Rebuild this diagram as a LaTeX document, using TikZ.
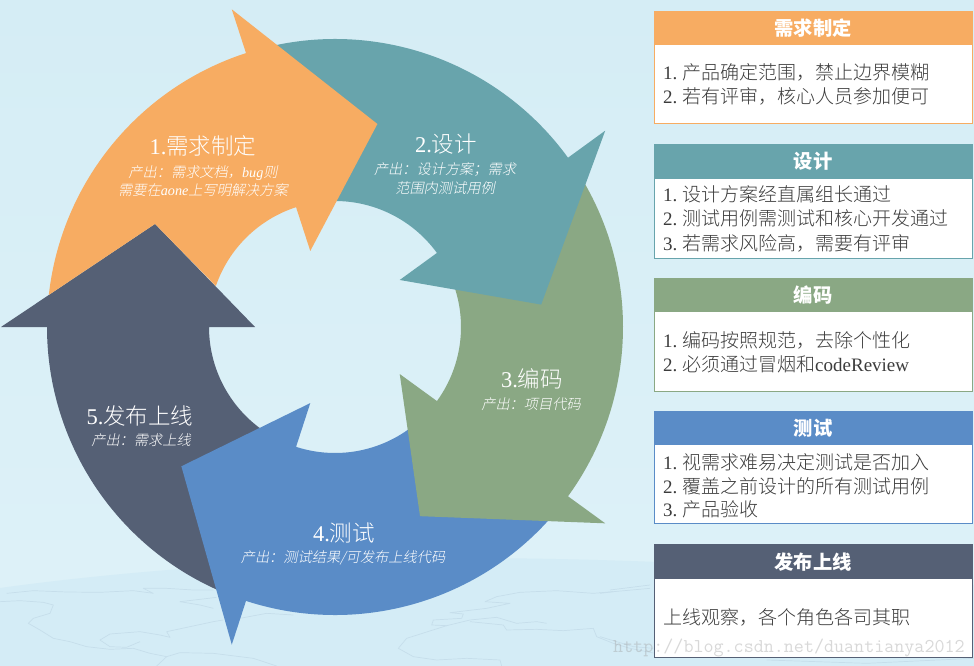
\documentclass[tikz,border=0pt]{standalone}
\usepackage{fontspec}
\setmainfont{Liberation Serif}
\newfontfamily\cjk{Noto Sans CJK SC}
\newfontfamily\cjkl{Noto Sans CJK SC Light}
\newfontfamily\cjki[FakeSlant=0.2]{Noto Sans CJK SC Light}
\definecolor{corange}{HTML}{F7AC62}
\definecolor{cteal}{HTML}{68A4AC}
\definecolor{colive}{HTML}{8AA884}
\definecolor{cblue}{HTML}{5A8CC7}
\definecolor{cdark}{HTML}{556075}
\definecolor{bgtop}{HTML}{D5EDF5}
\definecolor{bgbot}{HTML}{DDF1F8}
\definecolor{globe}{HTML}{D4ECF6}
\definecolor{mapline}{HTML}{C6DEEB}
\definecolor{bodytext}{HTML}{3C3C3C}
\tikzset{
  bigl/.style={text=white,inner sep=0pt,anchor=base,font=\fontsize{22.5}{22.5}\selectfont},
  subl/.style={text=white,inner sep=0pt,anchor=base,font=\fontsize{14.2}{14.2}\selectfont},
  bodyl/.style={text=bodytext,inner sep=0pt,anchor=base west,font=\fontsize{19}{19}\selectfont},
  headbox/.style={fill=#1,text=white,inner sep=0pt,anchor=north west,minimum width=318pt,font=\fontsize{19.3}{19.3}\selectfont\bfseries},
  panelbox/.style={draw=#1,fill=white,line width=1pt,inner sep=0pt,anchor=north west,minimum width=318pt},
  maptrace/.style={draw=mapline,line width=0.7pt,line join=round},
}
% #1 colour, #2 head angle, arrow sweeps clockwise into that angle
\newcommand{\swoop}[2]{%
  \pgfmathsetmacro{\tout}{#2+68}\pgfmathsetmacro{\tin}{#2+60.8}\pgfmathsetmacro{\ttip}{#2-29.8}%
  \fill[#1] (\tout:288pt) arc[start angle=\tout,end angle=#2,radius=288pt]
    -- (#2:334pt) -- (\ttip:207.4pt) -- (#2:80pt) -- (#2:126pt)
    arc[start angle=#2,end angle=\tin,radius=126pt] -- cycle;}
\newcommand{\panel}[6]{%
  \node[panelbox=#2,minimum height=#5pt] (p#1) at (654,#3) {};
  \node[headbox=#2,minimum height=#4pt] (h#1) at (654,#3) {\cjk #6};}
\newcommand{\num}[1]{\makebox[19pt][l]{#1}}
\begin{document}
\begin{tikzpicture}[x=1pt,y=-1pt]
\useasboundingbox (0,0) rectangle (974,666);
% background
\shade[top color=bgtop,bottom color=bgbot] (0,0) rectangle (974,575);
\fill[bgbot] (0,570) rectangle (974,666);
\fill[globe] (0,588) .. controls (130,570) and (300,558) .. (460,558)
  .. controls (600,558) and (800,565) .. (974,585) -- (974,666) -- (0,666) -- cycle;
% faint world map
\begin{scope}[shift={(0,560)},x=.3333pt,y=-.3333pt]
\draw[maptrace] (0,125)--(60,122)--(130,127)--(160,135)--(150,160)--(100,175)--(85,190)--(120,210)--(160,235)--(210,245)--(260,260)--(330,268)--(400,265)--(450,280)--(500,290)--(470,318);
\draw[maptrace] (20,100)--(100,92)--(200,96)--(300,97)--(400,92)--(460,100)--(430,85)--(500,85)--(580,90)--(640,90);
\draw[maptrace] (300,240)--(330,222)--(420,215)--(480,225)--(510,232)--(500,215)--(570,200)--(640,185)--(670,180);
\draw[maptrace] (300,240)--(330,260)--(380,262)--(420,245);
\draw[maptrace] (500,290)--(540,278)--(640,280)--(760,295)--(830,318);
\draw[maptrace] (540,125)--(600,118)--(650,112);
\draw[maptrace] (540,125)--(600,135)--(640,145);
\draw[maptrace] (720,175)--(800,160)--(880,165);
\end{scope}
\begin{scope}[shift={(330,560)},x=.3333pt,y=-.3333pt]
\draw[maptrace] (465,125)--(500,110)--(570,97)--(680,92)--(790,100)--(850,95)--(960,85);
\draw[maptrace] (465,125)--(540,130)--(470,145)--(360,158)--(400,162)--(395,175)--(310,180)--(305,195)--(350,197)--(420,180)--(500,172)--(560,190)--(620,185)--(650,190);
\draw[maptrace] (350,197)--(230,235)--(205,265)--(250,290)--(320,300)--(410,295)--(510,300)--(515,318);
\draw[maptrace] (420,185)--(520,195)--(530,210)--(620,208)--(700,212)--(790,205)--(800,230)--(850,250)--(900,265)--(975,280);
\end{scope}
\begin{scope}[shift={(600,560)},x=.3333pt,y=-.3333pt]
\draw[maptrace] (30,90)--(150,75);
\draw[maptrace] (0,100)--(40,95);
\draw[maptrace] (0,230)--(100,260)--(160,265);
\draw[maptrace] (500,300)--(800,310)--(1122,295);
\end{scope}
% five arrows, each one over the tail of the next
\begin{scope}[shift={(335,327)}]
\swoop{cdark}{180}
\swoop{cblue}{-108}
\swoop{colive}{-36}
\swoop{cteal}{36}
\fill[corange] (173.6:288pt) arc[start angle=173.6,end angle=108,radius=288pt]
  -- (108:334pt) -- (78.2:207.4pt) -- (108:80pt) -- (108:126pt)
  arc[start angle=108,end angle=161,radius=126pt] -- (150.2:207.4pt) -- cycle;
\end{scope}
% arrow labels
\node[bigl] (a1) at (203,154) {1.{\cjkl 需求制定}};
\node[subl] (a1s) at (203,177) {\cjki 产出：需求文档，{\itshape\rmfamily bug}\cjki 则};
\node[subl] (a1t) at (203,195) {\cjki 需要在{\itshape\rmfamily aone}\cjki 上写明解决方案};
\node[bigl] (a2) at (446,152) {2.{\cjkl 设计}};
\node[subl] (a2s) at (445,174) {\cjki 产出：设计方案；需求};
\node[subl] (a2t) at (445,193) {\cjki 范围内测试用例};
\node[bigl] (a3) at (532,387) {3.{\cjkl 编码}};
\node[subl] (a3s) at (531,409) {\cjki 产出：项目代码};
\node[bigl] (a4) at (344,541) {4.{\cjkl 测试}};
\node[subl] (a4s) at (343,562) {\cjki 产出：测试结果/可发布上线代码};
\node[bigl] (a5) at (140,424) {5.{\cjkl 发布上线}};
\node[subl] (a5s) at (141,445) {\cjki 产出：需求上线};
% right-hand panels
\panel{1}{corange}{11}{34}{112}{需求制定}
\node[bodyl] (t1a) at (663,80) {\num{1.}\cjkl 产品确定范围，禁止边界模糊};
\node[bodyl] (t1b) at (663,104) {\num{2.}\cjkl 若有评审，核心人员参加便可};
\panel{2}{cteal}{144}{35}{114}{设计}
\node[bodyl] (t2a) at (663,201) {\num{1.}\cjkl 设计方案经直属组长通过};
\node[bodyl] (t2b) at (663,225) {\num{2.}\cjkl 测试用例需测试和核心开发通过};
\node[bodyl] (t2c) at (663,250) {\num{3.}\cjkl 若需求风险高，需要有评审};
\panel{3}{colive}{278}{34}{112.5}{编码}
\node[bodyl] (t3a) at (663,347) {\num{1.}\cjkl 编码按照规范，去除个性化};
\node[bodyl] (t3b) at (663,371) {\num{2.}{\cjkl 必须通过冒烟和}codeReview};
\panel{4}{cblue}{411}{34}{112}{测试}
\node[bodyl] (t4a) at (663,469) {\num{1.}\cjkl 视需求难易决定测试是否加入};
\node[bodyl] (t4b) at (663,493) {\num{2.}\cjkl 覆盖之前设计的所有测试用例};
\node[bodyl] (t4c) at (663,516) {\num{3.}\cjkl 产品验收};
\panel{5}{cdark}{544}{35}{113}{发布上线}
\node[bodyl] (t5a) at (663,624) {\cjkl 上线观察，各个角色各司其职};
% watermark
\node[inner sep=0pt,anchor=base west,text=gray!75,text opacity=.4,font=\ttfamily\fontsize{19.5}{19.5}\selectfont] (wm) at (613,652) {http://blog.csdn.net/duantianya2012};
\end{tikzpicture}
\end{document}
